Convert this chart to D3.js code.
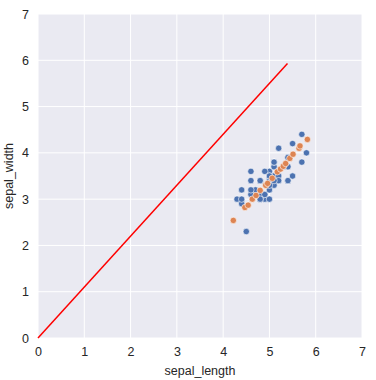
<!DOCTYPE html>
<meta charset="utf-8">
<script src="https://d3js.org/d3.v7.min.js"></script>
<style>
body { margin: 0; background: #fff; }
text { font-family: "Liberation Sans", Arial, sans-serif; fill: #262626; }
</style>
<body></body>
<script>

// observed setosa points (sepal_length, sepal_width)
var sepalLength = [5.1,4.9,4.7,4.6,5.0,5.4,4.6,5.0,4.4,4.9,5.4,4.8,4.8,4.3,5.8,5.7,5.4,5.1,5.7,5.1,
                   5.4,5.1,4.6,5.1,4.8,5.0,5.0,5.2,5.2,4.7,4.8,5.4,5.2,5.5,4.9,5.0,5.5,4.9,4.4,5.1,
                   5.0,4.5,4.4,5.0,5.1,4.8,5.1,4.6,5.3,5.0];
var sepalWidth  = [3.5,3.0,3.2,3.1,3.6,3.9,3.4,3.4,2.9,3.1,3.7,3.4,3.0,3.0,4.0,4.4,3.9,3.5,3.8,3.8,
                   3.4,3.7,3.6,3.3,3.4,3.0,3.4,3.5,3.4,3.2,3.1,3.4,4.1,4.2,3.1,3.2,3.5,3.6,3.0,3.4,
                   3.5,2.3,3.2,3.5,3.8,3.0,3.8,3.2,3.7,3.3];

// predicted points
var predX = [4.22,4.47,4.54,4.63,4.71,4.80,4.92,4.96,5.06,5.17,5.24,5.30,5.35,5.44,5.51,5.64,5.66,5.82];
var predY = [2.54,2.82,2.87,3.00,3.08,3.19,3.30,3.34,3.45,3.59,3.65,3.71,3.77,3.88,3.97,4.10,4.15,4.29];

// red reference line
var lineX = [0, 5.39];
var lineY = [0, 5.93];

var ticks = [0,1,2,3,4,5,6,7];

var margin = {top: 14, right: 14, bottom: 42, left: 38};
var width = 376, height = 380;
var w = 324, h = 324;

var svg = d3.select("body").append("svg")
    .attr("width", width)
    .attr("height", height)
  .append("g")
    .attr("transform", `translate(${margin.left},${margin.top})`);

var x = d3.scaleLinear().domain([0, 7]).range([0, w]);
var y = d3.scaleLinear().domain([0, 7]).range([h, 0]);

svg.append("rect")
  .attr("width", w).attr("height", h)
  .attr("fill", "#eaeaf2");

// grid
svg.selectAll(".vgrid").data(ticks).enter().append("line")
  .attr("x1", d => x(d)).attr("x2", d => x(d))
  .attr("y1", 0).attr("y2", h)
  .attr("stroke", "#fff").attr("stroke-width", 1);
svg.selectAll(".hgrid").data(ticks).enter().append("line")
  .attr("y1", d => y(d)).attr("y2", d => y(d))
  .attr("x1", 0).attr("x2", w)
  .attr("stroke", "#fff").attr("stroke-width", 1);

// axes
var xAxis = d3.axisBottom(x).tickValues(ticks).tickFormat(d3.format("d")).tickSize(0).tickPadding(9);
var yAxis = d3.axisLeft(y).tickValues(ticks).tickFormat(d3.format("d")).tickSize(0).tickPadding(9);

svg.append("g").attr("transform", `translate(0,${h})`).call(xAxis)
  .call(g => g.select(".domain").remove())
  .selectAll("text").style("font-size", "12.5px").attr("fill", "#262626");
svg.append("g").call(yAxis)
  .call(g => g.select(".domain").remove())
  .selectAll("text").style("font-size", "12.5px").attr("fill", "#262626");

svg.append("text")
  .attr("x", w / 2).attr("y", h + 37)
  .attr("text-anchor", "middle")
  .style("font-size", "12.5px")
  .text("sepal_length");

svg.append("text")
  .attr("transform", `translate(-25,${h / 2}) rotate(-90)`)
  .attr("text-anchor", "middle")
  .style("font-size", "12.5px")
  .text("sepal_width");

// red line
svg.append("path")
  .datum(lineX.map((d, i) => [d, lineY[i]]))
  .attr("d", d3.line().x(d => x(d[0])).y(d => y(d[1])))
  .attr("stroke", "red").attr("stroke-width", 1.5).attr("fill", "none");

// observed
svg.selectAll(".obs").data(sepalLength.map((d, i) => [d, sepalWidth[i]]))
  .enter().append("circle")
  .attr("cx", d => x(d[0])).attr("cy", d => y(d[1]))
  .attr("r", 3.2)
  .attr("fill", "#4c72b0").attr("stroke", "#fff").attr("stroke-width", 0.6);

// predicted
svg.selectAll(".pred").data(predX.map((d, i) => [d, predY[i]]))
  .enter().append("circle")
  .attr("cx", d => x(d[0])).attr("cy", d => y(d[1]))
  .attr("r", 3.2)
  .attr("fill", "#dd8452").attr("stroke", "#fff").attr("stroke-width", 0.6);

</script>
